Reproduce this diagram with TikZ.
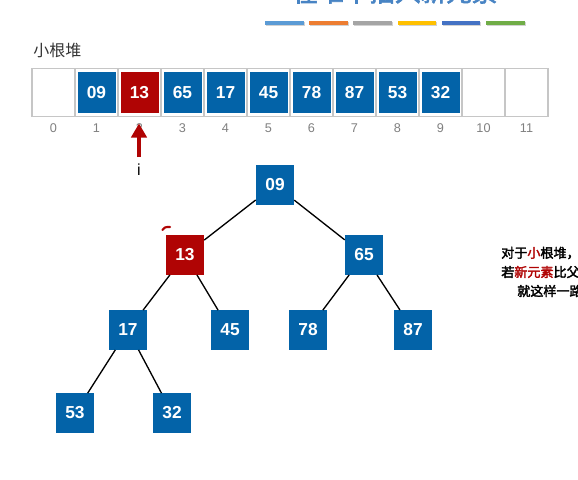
\documentclass[tikz,border=0pt]{standalone}
\usepackage{fontspec}
\setmainfont{Liberation Sans}
\newfontfamily\cjk{Noto Sans CJK SC}[AutoFakeBold=2.5]
\usetikzlibrary{arrows.meta,positioning}
\definecolor{hblue}{RGB}{3,99,168}
\definecolor{hred}{RGB}{176,4,4}
\definecolor{ttl}{RGB}{72,132,196}
\definecolor{s1}{RGB}{91,155,213}
\definecolor{s2}{RGB}{237,125,49}
\definecolor{s3}{RGB}{165,165,165}
\definecolor{s4}{RGB}{255,192,0}
\definecolor{s5}{RGB}{68,114,196}
\definecolor{s6}{RGB}{112,173,71}
\begin{document}
\begin{tikzpicture}[x=0.75pt,y=-0.75pt]
\tikzstyle{K}=[minimum width=28.5pt,minimum height=29.5pt,inner sep=0pt,
text=white,font=\fontsize{13}{13}\selectfont\bfseries]
\tikzstyle{cell}=[draw=gray!45,line width=0.8pt,minimum width=32.25pt,
minimum height=36pt,inner sep=0pt]
\tikzstyle{idx}=[text=gray,font=\fontsize{9.5}{10}\selectfont]
\tikzstyle{note}=[anchor=west,inner sep=0pt,font=\cjk\bfseries\fontsize{9.8}{10}\selectfont]
\clip (0,0) rectangle (578,479);
\fill[white] (0,0) rectangle (578,479);
% title (cut off at the top)
\node[anchor=base,inner sep=0pt,text=ttl,font=\cjk\bfseries\fontsize{19.2}{19}\selectfont]
(title) at (395,1.5) {在堆中插入新元素};
\foreach \c [count=\k] in {s1,s2,s3,s4,s5,s6}{
\fill[gray!35] (266+44.2*\k-44.2,22) rectangle +(38.5,4);
\fill[\c] (265+44.2*\k-44.2,21) rectangle +(38.5,3.6);
}
% array
\node[anchor=west,inner sep=0pt,text=black!80,font=\cjk\fontsize{12}{12}\selectfont]
(lbl) at (33,50.5) {小根堆};
\foreach \k in {0,...,11}{
\node[cell](c\k) at (53.5+43*\k,92.5){};
\node[idx](n\k) at (53.5+43*\k,128.5){\k};
}
\foreach \v/\c [count=\k] in {09/hblue,13/hred,65/hblue,17/hblue,45/hblue,
78/hblue,87/hblue,53/hblue,32/hblue}
\node[K,fill=\c,minimum height=30.75pt](v\k) at (c\k){\v};
\node[font=\fontsize{12}{12}\selectfont](il) at (139,170){i};
\coordinate (itail) at (139,157);
\coordinate (itip) at (139,123.5);
\draw[hred,line width=2.4pt,-{Triangle[width=11.5pt,length=10.5pt]}](itail)--(itip);
% tree
\node[K,fill=hblue](t1) at (275,185){09};
\node[K,fill=hred](t2) at (185,255){13};
\node[K,fill=hblue](t3) at (364,255){65};
\node[K,fill=hblue](t4) at (128,330){17};
\node[K,fill=hblue](t5) at (230,330){45};
\node[K,fill=hblue](t6) at (308,330){78};
\node[K,fill=hblue](t7) at (413,330){87};
\node[K,fill=hblue](t8) at (75,413){53};
\node[K,fill=hblue](t9) at (172,413){32};
\draw[line width=1pt](t1)--(t2) (t1)--(t3) (t2)--(t4) (t2)--(t5)
(t3)--(t6) (t3)--(t7) (t4)--(t8) (t4)--(t9);
\draw[hred,line width=1.6pt,line cap=round](162.5,230) .. controls (165,227) .. (170,227);
% text on the right (cut off)
\node[note](r1) at (501,253){对于\textcolor{hred}{小}根堆，};
\node[note](r2) at (501,272){若\textcolor{hred}{新元素}比父};
\node[note](r3) at (517,291){就这样一路};
\end{tikzpicture}
\end{document}
